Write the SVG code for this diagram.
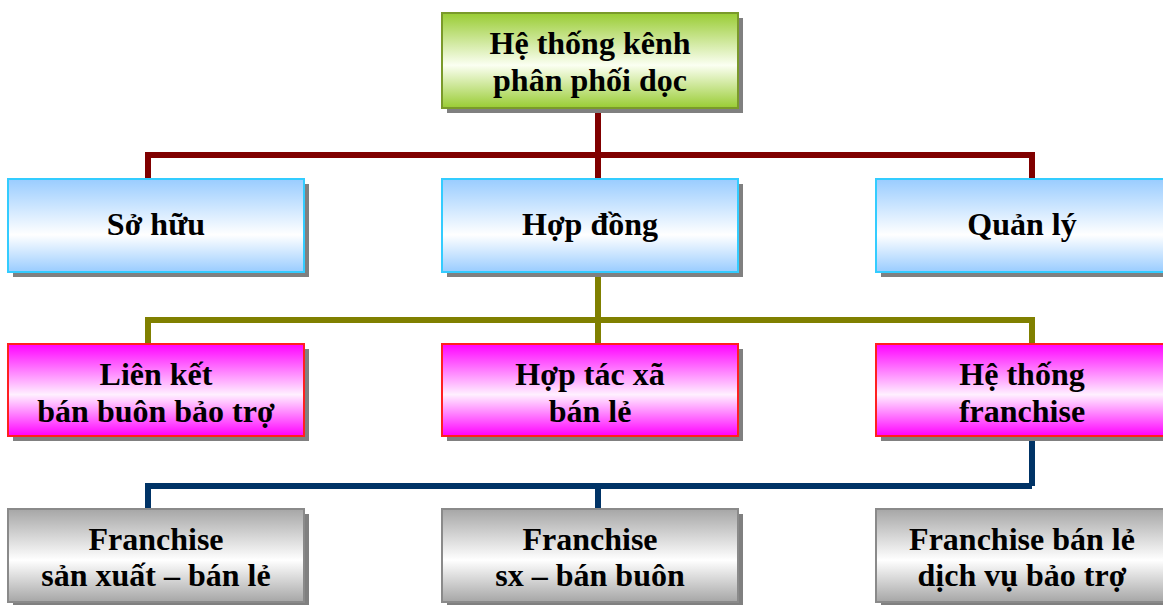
<svg xmlns="http://www.w3.org/2000/svg" width="1163" height="605" viewBox="0 0 1163 605">
  <defs>
    <linearGradient id="gGreen" x1="0" y1="0" x2="0" y2="1">
      <stop offset="0" stop-color="#99cc33"/>
      <stop offset="0.55" stop-color="#fbfff2"/>
      <stop offset="1" stop-color="#99cc33"/>
    </linearGradient>
    <linearGradient id="gBlue" x1="0" y1="0" x2="0" y2="1">
      <stop offset="0" stop-color="#99ccff"/>
      <stop offset="0.6" stop-color="#ffffff"/>
      <stop offset="1" stop-color="#99ccff"/>
    </linearGradient>
    <linearGradient id="gPink" x1="0" y1="0" x2="0" y2="1">
      <stop offset="0" stop-color="#ff00ff"/>
      <stop offset="0.55" stop-color="#fff0ff"/>
      <stop offset="1" stop-color="#ff00ff"/>
    </linearGradient>
    <linearGradient id="gGray" x1="0" y1="0" x2="0" y2="1">
      <stop offset="0" stop-color="#a6a6a6"/>
      <stop offset="0.55" stop-color="#ffffff"/>
      <stop offset="1" stop-color="#a6a6a6"/>
    </linearGradient>
  </defs>
  <style>
    .shadow { fill: #808080; }
    .box { stroke-width: 2; }
    .green { fill: url(#gGreen); stroke: #7a9a2a; }
    .blue { fill: url(#gBlue); stroke: #33ccff; }
    .pink { fill: url(#gPink); stroke: #ff2020; }
    .gray { fill: url(#gGray); stroke: #8a8a8a; }
    .label { font-family: "Liberation Serif", "Times New Roman", serif; font-weight: bold; font-size: 32px; fill: #000; text-anchor: middle; }
    .wire { fill: none; stroke-width: 6; stroke-linejoin: miter; }
    .red { stroke: #800000; }
    .olive { stroke: #808000; }
    .navy { stroke: #003366; }
  </style>

  <rect width="1163" height="605" fill="#ffffff"/>

  <!-- connectors -->
  <g id="connectors">
    <path class="wire red" d="M598 108 V155 M148 179 V155 H1032 V179 M598 155 V179"/>
    <path class="wire olive" d="M598 272 V320 M148 344 V320 H1032 V344 M598 320 V344"/>
    <path class="wire navy" d="M1032 436 V486 M148 509 V486 H1032 M598 486 V509"/>
  </g>

  <!-- level 1 -->
  <g id="root">
    <rect class="shadow" x="447" y="18" width="296" height="95"/>
    <rect class="box green" x="442" y="13" width="296" height="95"/>
    <text class="label" x="590" y="54">Hệ thống kênh</text>
    <text class="label" x="590" y="91">phân phối dọc</text>
  </g>

  <!-- level 2 -->
  <g id="so-huu">
    <rect class="shadow" x="13" y="184" width="296" height="93"/>
    <rect class="box blue" x="8" y="179" width="296" height="93"/>
    <text class="label" x="156" y="235">Sở hữu</text>
  </g>
  <g id="hop-dong">
    <rect class="shadow" x="447" y="184" width="296" height="93"/>
    <rect class="box blue" x="442" y="179" width="296" height="93"/>
    <text class="label" x="590" y="235">Hợp đồng</text>
  </g>
  <g id="quan-ly">
    <rect class="shadow" x="881" y="184" width="296" height="93"/>
    <rect class="box blue" x="876" y="179" width="296" height="93"/>
    <text class="label" x="1022" y="235">Quản lý</text>
  </g>

  <!-- level 3 -->
  <g id="lien-ket">
    <rect class="shadow" x="13" y="349" width="296" height="92"/>
    <rect class="box pink" x="8" y="344" width="296" height="92"/>
    <text class="label" x="156" y="385">Liên kết</text>
    <text class="label" x="156" y="422">bán buôn bảo trợ</text>
  </g>
  <g id="hop-tac-xa">
    <rect class="shadow" x="447" y="349" width="296" height="92"/>
    <rect class="box pink" x="442" y="344" width="296" height="92"/>
    <text class="label" x="590" y="385">Hợp tác xã</text>
    <text class="label" x="590" y="422">bán lẻ</text>
  </g>
  <g id="franchise-system">
    <rect class="shadow" x="881" y="349" width="296" height="92"/>
    <rect class="box pink" x="876" y="344" width="296" height="92"/>
    <text class="label" x="1022" y="385">Hệ thống</text>
    <text class="label" x="1022" y="422">franchise</text>
  </g>

  <!-- level 4 -->
  <g id="franchise-sx-le">
    <rect class="shadow" x="13" y="514" width="296" height="93"/>
    <rect class="box gray" x="8" y="509" width="296" height="93"/>
    <text class="label" x="156" y="550">Franchise</text>
    <text class="label" x="156" y="586">sản xuất – bán lẻ</text>
  </g>
  <g id="franchise-sx-buon">
    <rect class="shadow" x="447" y="514" width="296" height="93"/>
    <rect class="box gray" x="442" y="509" width="296" height="93"/>
    <text class="label" x="590" y="550">Franchise</text>
    <text class="label" x="590" y="586">sx – bán buôn</text>
  </g>
  <g id="franchise-dich-vu">
    <rect class="shadow" x="881" y="514" width="296" height="93"/>
    <rect class="box gray" x="876" y="509" width="296" height="93"/>
    <text class="label" x="1022" y="550">Franchise bán lẻ</text>
    <text class="label" x="1022" y="586">dịch vụ bảo trợ</text>
  </g>
</svg>
